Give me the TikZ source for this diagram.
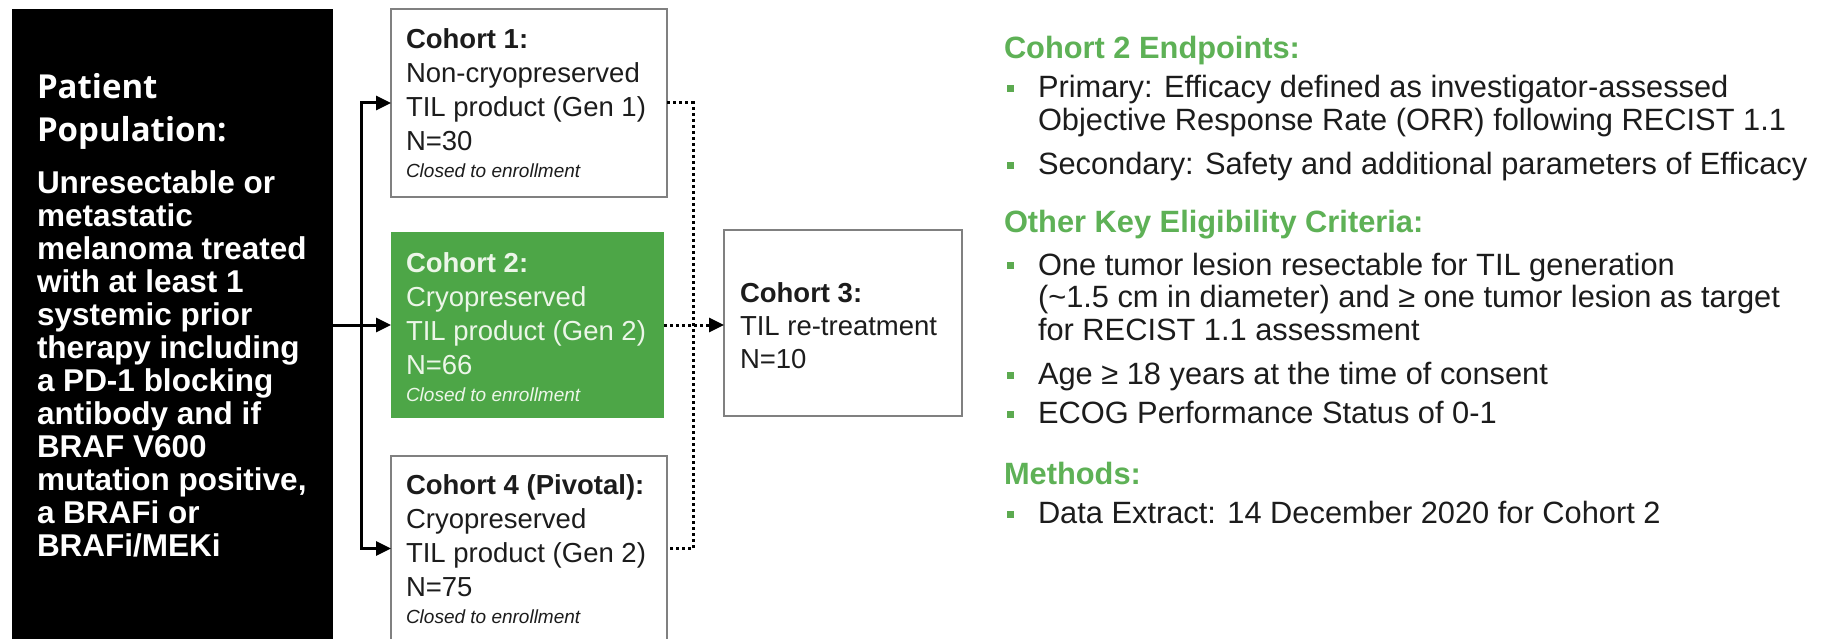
\documentclass[tikz,border=0pt]{standalone}
\usepackage{fontspec}
\setmainfont{Liberation Sans}
\newfontfamily\titlefont{Open Sans}
\usetikzlibrary{arrows.meta}
\definecolor{boxgreen}{RGB}{77,166,71}
\definecolor{headgreen}{RGB}{94,177,86}
\definecolor{bulletgreen}{RGB}{92,170,80}
\definecolor{boxline}{RGB}{128,128,128}
\definecolor{ink}{RGB}{28,28,28}
\definecolor{paleink}{RGB}{236,246,232}

\begin{document}
\begin{tikzpicture}[x=1pt,y=-1pt,
  every node/.style={inner sep=0pt, outer sep=0pt},
  cohortbox/.style={draw=boxline, line width=1.3pt, anchor=north west},
  % multi-line texts are anchored at the baseline of their last line
  cohorttext/.style={anchor=base west, align=left, text=ink,
    font=\fontsize{27.5}{34}\selectfont},
  closedtext/.style={anchor=base west, text=ink,
    font=\itshape\fontsize{19}{22}\selectfont},
  conn/.style={line width=3pt, draw=black, line join=miter},
  tip/.style={-{Triangle[length=15pt,width=14pt]}},
  dots/.style={line width=3pt, draw=black,
    dash pattern=on 3pt off 3pt},
  headtext/.style={anchor=base west, text=headgreen,
    font=\bfseries\fontsize{30.8}{33}\selectfont},
  btext/.style={anchor=base west, align=left, text=ink,
    font=\fontsize{30.8}{32.5}\selectfont},
  bsq/.style={fill=bulletgreen, minimum size=7pt, anchor=center}
]
\useasboundingbox (0,0) rectangle (1821,639);
\fill[white] (0,0) rectangle (1821,639);
\clip (0,0) rectangle (1821,639);

% patient population panel
\node[fill=black, anchor=north west, minimum width=321pt, minimum height=640pt] (pop) at (12,9) {};
\node[anchor=base west, align=left, text=white,
  font=\titlefont\bfseries\fontsize{33}{43}\selectfont] (poptitle) at (37,142)
  {Patient\\Population:};
\node[anchor=base west, align=left, text=white,
  font=\bfseries\fontsize{31.5}{33}\selectfont] (popbody) at (37,556)
  {Unresectable or\\metastatic\\melanoma treated\\with at least 1\\systemic prior\\therapy including\\a PD-1 blocking\\antibody and if\\BRAF V600\\mutation positive,\\a BRAFi or\\BRAFi/MEKi};

% cohort boxes
\node[cohortbox, minimum width=276pt, minimum height=188pt] (c1) at (391,9) {};
\node[fill=boxgreen, anchor=north west, minimum width=273pt, minimum height=186pt] (c2) at (391,232) {};
\node[cohortbox, minimum width=276pt, minimum height=185pt] (c4) at (391,456) {};
\node[cohortbox, minimum width=238pt, minimum height=186pt] (c3) at (724,230) {};

\node[cohorttext] (c1text) at (406,151)
  {\textbf{Cohort 1:}\\Non-cryopreserved\\TIL product (Gen 1)\\N=30};
\node[closedtext] (c1closed) at (406,178) {Closed to enrollment};

\node[cohorttext, text=paleink] (c2text) at (406,374)
  {\textbf{Cohort 2:}\\Cryopreserved\\TIL product (Gen 2)\\N=66};
\node[closedtext, text=paleink] (c2closed) at (406,401) {Closed to enrollment};

\node[cohorttext] (c4text) at (406,596)
  {\textbf{Cohort 4 (Pivotal):}\\Cryopreserved\\TIL product (Gen 2)\\N=75};
\node[closedtext] (c4closed) at (406,623) {Closed to enrollment};

\node[cohorttext, font=\fontsize{27.5}{33}\selectfont] (c3text) at (740,368)
  {\textbf{Cohort 3:}\\TIL re-treatment\\N=10};

% solid connectors from the population panel
\coordinate (trunk) at (361,325);
\draw[conn, tip] (pop.east |- c2.west) -- (c2.west);
\draw[conn, tip] (trunk) |- (c1.west);
\draw[conn, tip] (trunk) |- (c4.west);

% dotted connectors towards cohort 3
\coordinate (dotx) at (693,325);
\draw[dots] (c1.east) -| (dotx) |- (c4.east);
\draw[dots, tip] (c2.east) -- (c3.west |- c2.east);

% endpoints and criteria
\node[headtext] (h1) at (1004,59) {Cohort 2 Endpoints:};
\node[bsq] (b1) at (1010,89) {};
\node[btext] (t1) at (1038,130.5) {Primary: Efficacy defined as investigator-assessed\\Objective Response Rate (ORR) following RECIST 1.1};
\node[bsq] (b2) at (1010,166) {};
\node[btext] (t2) at (1038,175) {Secondary: Safety and additional parameters of Efficacy};

\node[headtext] (h2) at (1004,233) {Other Key Eligibility Criteria:};
\node[bsq] (b3) at (1010,266) {};
\node[btext] (t3) at (1038,340) {One tumor lesion resectable for TIL generation\\(\textasciitilde1.5 cm in diameter) and ≥ one tumor lesion as target\\for RECIST 1.1 assessment};
\node[bsq] (b4) at (1010,375) {};
\node[btext] (t4) at (1038,384) {Age ≥ 18 years at the time of consent};
\node[bsq] (b5) at (1010,414) {};
\node[btext] (t5) at (1038,423) {ECOG Performance Status of 0-1};

\node[headtext] (h3) at (1004,484) {Methods:};
\node[bsq] (b6) at (1010,514) {};
\node[btext] (t6) at (1038,523) {Data Extract: 14 December 2020 for Cohort 2};
\end{tikzpicture}
\end{document}
